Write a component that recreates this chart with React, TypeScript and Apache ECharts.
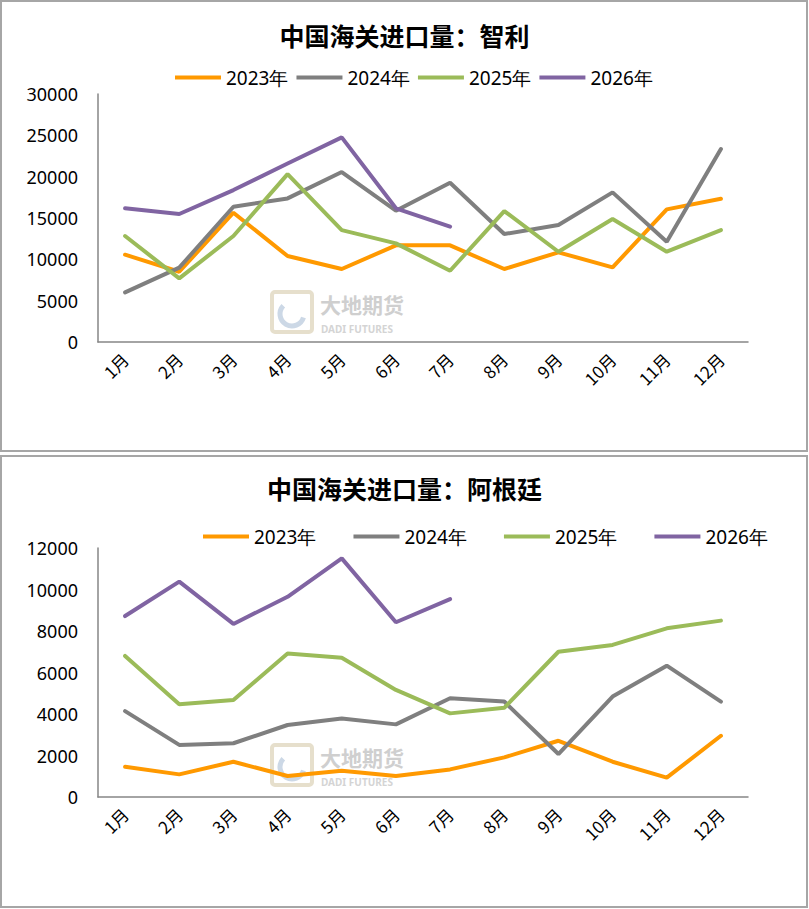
import React, { useEffect, useRef } from 'react'
import * as echarts from 'echarts'

const months = ['1月', '2月', '3月', '4月', '5月', '6月', '7月', '8月', '9月', '10月', '11月', '12月']
const years = ['2023年', '2024年', '2025年', '2026年']
const colors = ['#ff9900', '#7f7f7f', '#9bbb59', '#8064a2']

// 智利
const chile2023 = [10560, 8500, 15640, 10400, 8830, 11690, 11690, 8830, 10850, 9030, 16040, 17330]
const chile2024 = [6000, 8990, 16360, 17370, 20560, 15880, 19260, 13060, 14150, 18100, 12130, 23340]
const chile2025 = [12820, 7700, 12820, 20310, 13540, 11930, 8620, 15840, 10920, 14870, 10920, 13540]
const chile2026 = [16170, 15480, 18380, 21600, 24750, 16170, 13950]

// 阿根廷
const arg2023 = [1460, 1090, 1700, 1010, 1270, 1010, 1330, 1910, 2710, 1700, 930, 2950]
const arg2024 = [4140, 2510, 2590, 3470, 3780, 3500, 4760, 4600, 2070, 4840, 6330, 4600]
const arg2025 = [6800, 4470, 4670, 6920, 6710, 5160, 4030, 4300, 7000, 7330, 8130, 8500]
const arg2026 = [8720, 10380, 8340, 9650, 11500, 8420, 9540]

const numFont = 'Noto Sans'
const cjkFont = 'Noto Sans CJK SC'

// 水印
const watermark = (x: number, y: number) => ({
  type: 'group',
  x,
  y,
  silent: true,
  children: [
    { type: 'rect', shape: { x: 0, y: 0, width: 40, height: 40, r: 3 }, style: { fill: 'none', stroke: '#e6dfcc', lineWidth: 4 } },
    { type: 'arc', shape: { cx: 20, cy: 22, r: 12, startAngle: 0.3, endAngle: 3.9 }, style: { stroke: '#ccd8e6', lineWidth: 5, fill: 'none' } },
    { type: 'text', x: 48, y: 1, style: { text: '大地期货', font: 'bold 21px "Noto Sans CJK SC"', fill: '#cfcfcf', verticalAlign: 'top' } },
    { type: 'text', x: 49, y: 32, style: { text: 'DADI FUTURES', font: 'bold 10px "Noto Sans"', fill: '#d4d4d4', verticalAlign: 'top' } }
  ]
})

const App = () => {
  const chartRef: any = useRef()

  useEffect(() => {
    document.body.style.margin = '0'
    const chart = echarts.init(chartRef.current, null, { renderer: 'svg' })

    const chileData = [chile2023, chile2024, chile2025, chile2026]
    const argData = [arg2023, arg2024, arg2025, arg2026]

    const xAxis = (gridIndex: number) => ({
      type: 'category',
      gridIndex,
      data: months,
      axisLine: { lineStyle: { color: '#868686', width: 1.5 } },
      axisTick: { show: false },
      axisLabel: { rotate: 45, margin: 14, fontSize: 17, color: '#000', fontFamily: cjkFont }
    })
    const yAxis = (gridIndex: number, max: number, interval: number) => ({
      type: 'value',
      gridIndex,
      min: 0,
      max,
      interval,
      axisLine: { show: true, lineStyle: { color: '#868686', width: 1.5 } },
      axisTick: { show: false },
      splitLine: { show: false },
      axisLabel: { margin: 20, fontSize: 18, color: '#000', fontFamily: numFont, formatter: (v: number) => String(v) }
    })

    const makeSeries = (data: number[][], idx: number) =>
      data.map((d, i) => ({
        name: years[i],
        type: 'line',
        xAxisIndex: idx,
        yAxisIndex: idx,
        data: d,
        symbol: 'none',
        lineStyle: { width: 4, color: colors[i], cap: 'round' },
        itemStyle: { color: colors[i] },
        z: 3
      }))

    const legend = (left: number, top: number, itemGap: number) => ({
      left,
      top,
      itemGap,
      itemWidth: 46,
      itemHeight: 4,
      icon: 'rect',
      data: years,
      selectedMode: false,
      textStyle: { fontSize: 19, color: '#000', fontFamily: numFont }
    })

    const options: any = {
      animation: false,
      backgroundColor: '#fff',
      color: colors,
      title: [
        {
          text: '中国海关进口量：智利',
          left: 'center',
          top: 17,
          textStyle: { fontSize: 25, fontWeight: 'bold', color: '#000', fontFamily: cjkFont }
        },
        {
          text: '中国海关进口量：阿根廷',
          left: 'center',
          top: 470,
          textStyle: { fontSize: 25, fontWeight: 'bold', color: '#000', fontFamily: cjkFont }
        }
      ],
      legend: [legend(170, 63, 8), legend(198, 522, 37)],
      grid: [
        { left: 98, right: 61, top: 94, height: 248 },
        { left: 98, right: 61, top: 548, height: 249 }
      ],
      xAxis: [xAxis(0), xAxis(1)],
      yAxis: [yAxis(0, 30000, 5000), yAxis(1, 12000, 2000)],
      graphic: [
        { type: 'rect', shape: { x: 1, y: 1, width: 806, height: 450 }, style: { fill: 'none', stroke: '#a6a6a6', lineWidth: 2 }, silent: true },
        { type: 'rect', shape: { x: 1, y: 456, width: 806, height: 451 }, style: { fill: 'none', stroke: '#a6a6a6', lineWidth: 2 }, silent: true },
        watermark(272, 292),
        watermark(272, 745)
      ],
      series: [...makeSeries(chileData, 0), ...makeSeries(argData, 1)]
    }

    chart.setOption(options)

    return () => {
      chart.dispose()
    }
  }, [])

  return <div style={{ width: 809, height: 909 }} ref={chartRef}></div>
}

export default App
